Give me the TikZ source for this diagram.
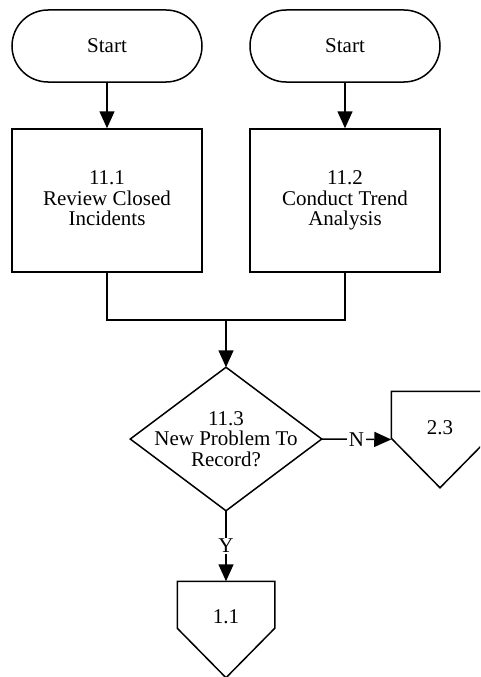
\documentclass[tikz,border=0pt]{standalone}
\usepackage{fontspec}
\setmainfont{Liberation Serif}
\usetikzlibrary{arrows.meta,calc}

\tikzset{
  base/.style={font=\fontsize{21}{20.5}\selectfont, align=center, line width=1.5pt, inner sep=0pt},
  terminal/.style={base, draw, rounded corners=36pt, minimum width=190pt, minimum height=72pt},
  process/.style={base, draw, minimum width=190pt, minimum height=143pt,
    execute at end node=\vphantom{y}},
  decisionbox/.style={base, minimum width=190pt, minimum height=142pt},
  offpage/.style={base, minimum width=96pt, minimum height=95pt},
  lbl/.style={base},
  flow/.style={line width=1.5pt, -{Triangle[length=17pt,width=15pt]}},
  link/.style={line width=1.5pt},
  edgelbl/.style={font=\fontsize{21}{21}\selectfont, fill=white, inner sep=1.5pt}
}

% draws an off-page connector (pentagon) inside the bounds of a named node
\newcommand{\offpageshape}[1]{%
  \draw[line width=1.5pt, line join=miter]
    (#1.north west) -- (#1.north east) -- ($(#1.north east)+(0,47)$)
    -- (#1.south) -- ($(#1.north west)+(0,47)$) -- cycle;}

\begin{document}
\begin{tikzpicture}[x=1pt, y=-1pt]
  \clip (0,0) rectangle (480,677);
  \fill[white] (0,0) rectangle (480,677);

  % start terminals
  \node[terminal] (s1) at (107,46) {Start};
  \node[terminal] (s2) at (345,46) {Start};

  % process steps
  \node[process] (p1) at (107,200.5) {11.1\\Review Closed\\Incidents};
  \node[process] (p2) at (345,200.5) {11.2\\Conduct Trend\\Analysis};

  % decision
  \node[decisionbox] (d) at (226,439) {11.3\\New Problem To\\Record?};
  \draw[line width=1.5pt, line join=miter] (d.north) -- (d.east) -- (d.south) -- (d.west) -- cycle;

  % off-page connectors
  \node[offpage] (c23) at (440,439.5) {};
  \offpageshape{c23}
  \node[lbl] (c23t) at (440,428) {2.3};

  \node[offpage] (c11) at (226,629.5) {};
  \offpageshape{c11}
  \node[lbl] (c11t) at (226,617) {1.1};

  % connectors
  \coordinate (m) at (226,320);
  \draw[flow] (s1.south) -- (p1.north);
  \draw[flow] (s2.south) -- (p2.north);
  \draw[link] (p1.south) |- (m);
  \draw[link] (p2.south) |- (m);
  \draw[flow] (m) -- (d.north);
  \draw[flow] (d.east) -- node[edgelbl] {N} (c23.west);
  \draw[flow] (d.south) -- node[edgelbl] {Y} (c11.north);
\end{tikzpicture}
\end{document}
